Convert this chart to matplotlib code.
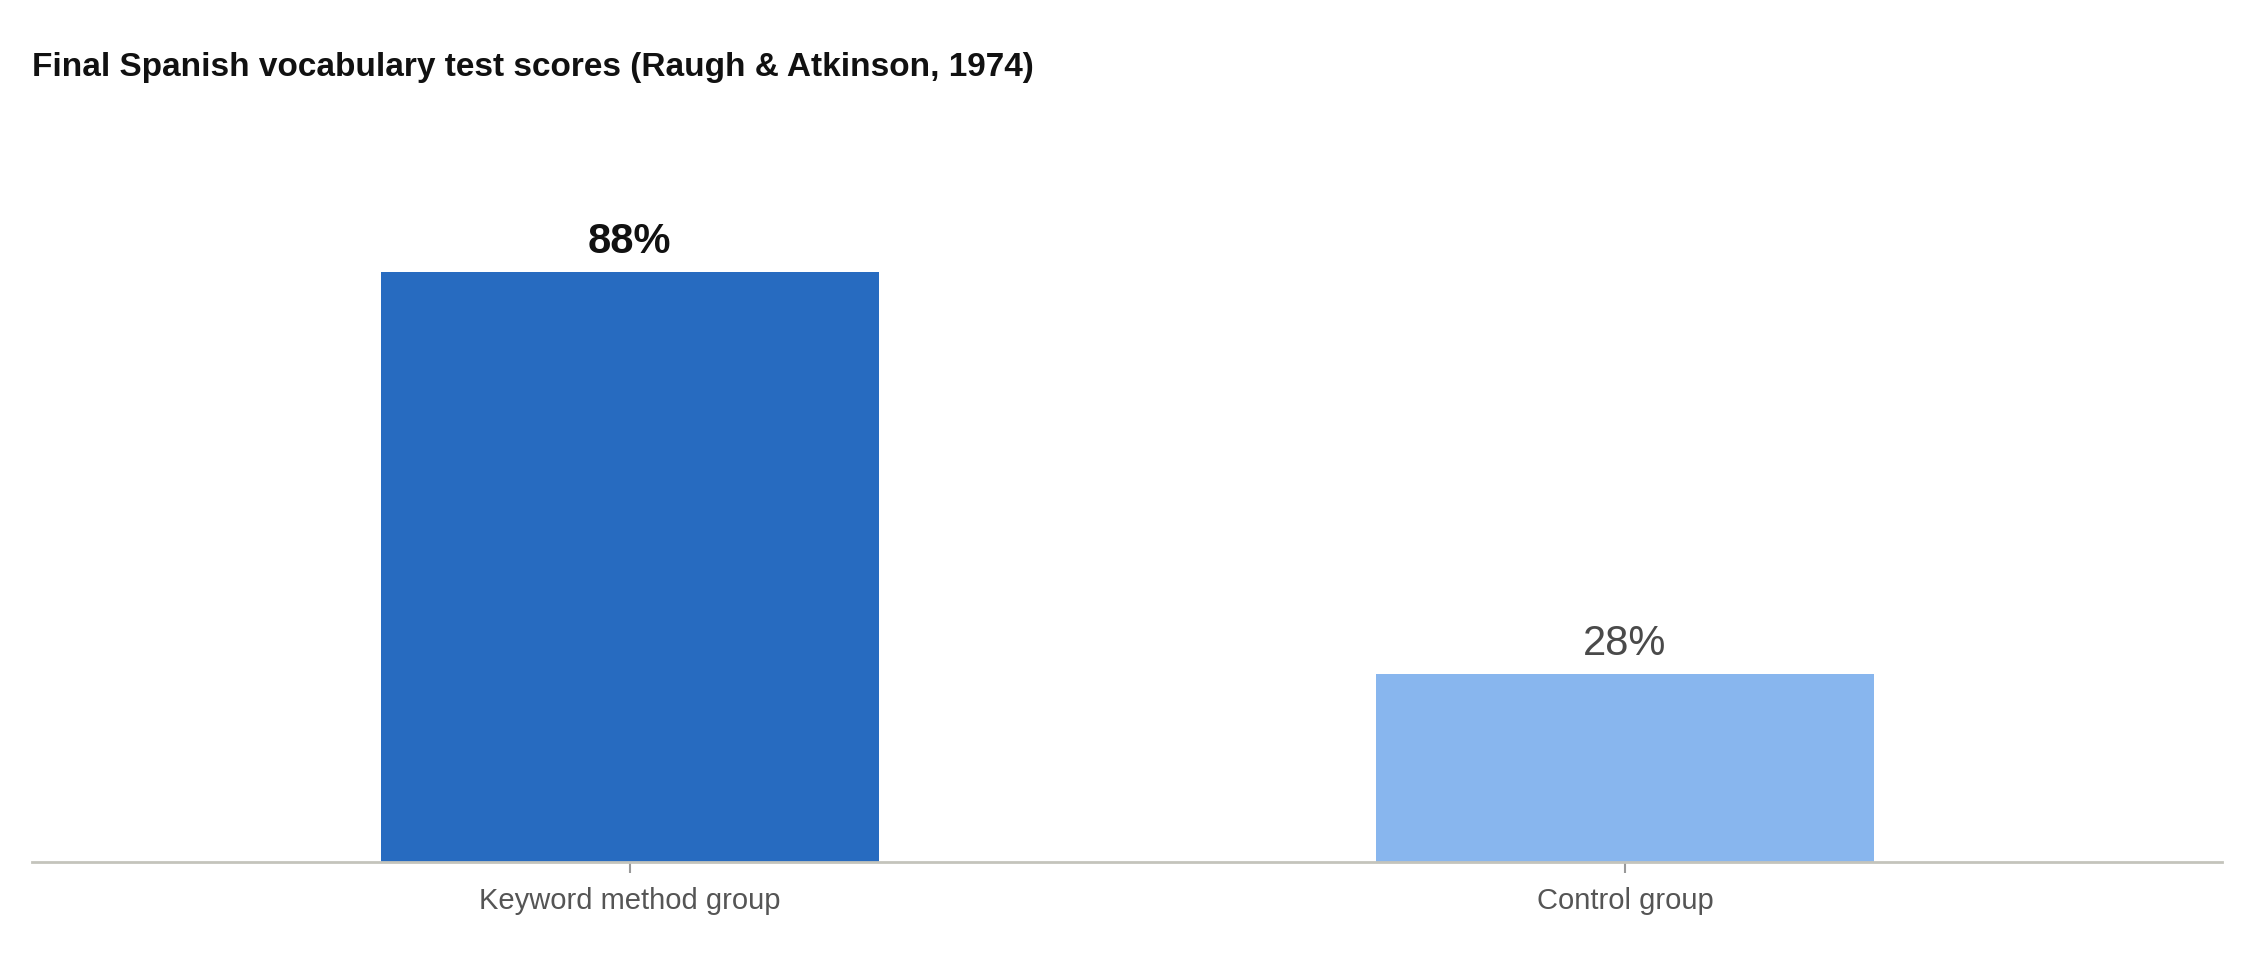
import matplotlib
matplotlib.use("Agg")
import matplotlib.pyplot as plt

categories = ["Keyword method group", "Control group"]
values = [88, 28]
labels = ["88%", "28%"]
colors = ["#276bc0", "#88b6ee"]

plt.rcParams['font.family'] = ['Liberation Sans', 'DejaVu Sans']
fig = plt.figure(figsize=(22.56, 9.6), dpi=100)
ax = fig.add_axes([0.014, 0.102, 0.971, 0.698])
x = list(range(len(categories)))
ax.bar(x, values, width=0.5, color=colors)
ax.set_xlim(-0.601, 1.6)
ax.set_ylim(0, 100)
for i, (v, l) in enumerate(zip(values, labels)):
    ax.text(i, v + 1.5, l, ha='center', va='bottom', fontsize=30,
            fontweight='bold' if i == 0 else 'normal',
            color='#111111' if i == 0 else '#4a4a4a')
ax.set_xticks(x)
ax.set_xticklabels(categories, fontsize=21, color='#555555')
ax.tick_params(axis='x', length=8, color='#999999', width=1.5, pad=10)
ax.set_yticks([])
for s in ['top', 'right', 'left']:
    ax.spines[s].set_visible(False)
ax.spines['bottom'].set_color('#c4c4bc')
ax.spines['bottom'].set_linewidth(2)
fig.text(0.014, 0.93, "Final Spanish vocabulary test scores (Raugh & Atkinson, 1974)",
         fontsize=24, fontweight='bold', ha='left', va='center', color='#111111')
fig.savefig("out.png", dpi=100, facecolor='white')
